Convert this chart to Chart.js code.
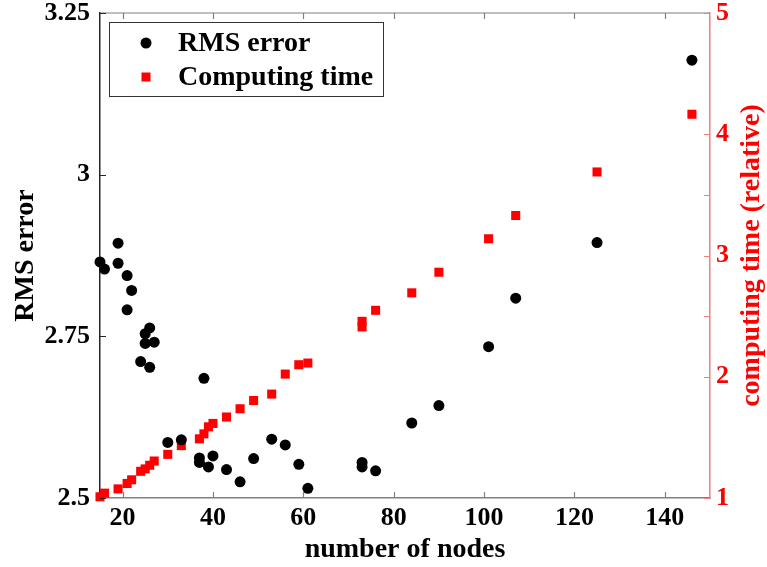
<!DOCTYPE html>
<html>
<head>
<meta charset="utf-8">
<title>RMS error and computing time vs number of nodes</title>
<script src="https://cdn.jsdelivr.net/npm/chart.js@4.4.1/dist/chart.umd.min.js"></script>
<style>
    html, body { margin: 0; padding: 0; background: #fff; }
    #chart { display: block; }
</style>
</head>
<body>
<canvas id="chart" width="767" height="567"></canvas>
<script>
// RMS error (left axis), black circles
var rmsNodes = [15, 16, 19, 19, 21, 21, 22, 24, 25, 25, 26, 26, 27, 30, 33, 37, 37, 38, 39, 40,
    43, 46, 49, 53, 56, 59, 61, 73, 73, 76, 84, 90, 101, 107, 125, 146];
var rmsError = [2.865, 2.854, 2.894, 2.863, 2.844, 2.791, 2.821, 2.711, 2.754, 2.739, 2.763, 2.702,
    2.741, 2.586, 2.590, 2.562, 2.555, 2.685, 2.548, 2.565, 2.544, 2.525, 2.561, 2.591, 2.582,
    2.552, 2.515, 2.555, 2.548, 2.542, 2.616, 2.643, 2.734, 2.809, 2.895, 3.177];

// computing time (right axis, relative), red squares
var timeNodes = [15, 16, 19, 21, 22, 24, 25, 26, 27, 30, 33, 37, 38, 39, 40, 43, 46, 49, 53, 56,
    59, 61, 73, 73, 76, 84, 90, 101, 107, 125, 146];
var timeRel = [1.01, 1.04, 1.075, 1.12, 1.15, 1.22, 1.24, 1.27, 1.305, 1.36, 1.432, 1.488, 1.529,
    1.587, 1.615, 1.668, 1.736, 1.804, 1.857, 2.022, 2.099, 2.113, 2.411, 2.457, 2.548, 2.692,
    2.862, 3.138, 3.33, 3.689, 4.165];

// tick labels
var xTicks = [20, 40, 60, 80, 100, 120, 140];
var rmsTicks = [2.5, 2.75, 3, 3.25];
var timeTicks = [1, 2, 3, 4, 5];
var timeMinorTicks = [2.5, 3.5];

var serif = "'Liberation Serif', 'Times New Roman', serif";
var tickFont = { family: serif, size: 26, weight: 'bold' };
var titleFont = { family: serif, size: 28, weight: 'bold' };
var red = '#ff0000';
var axisPink = '#f08080';
var axisGray = '#808080';
var axisDark = '#262626';

function pairs(xs, ys) {
    return xs.map(function(x, i) { return { x: x, y: ys[i] }; });
}

function setTicks(values) {
    return function(scale) {
        scale.ticks = values.map(function(v) { return { value: v }; });
    };
}

function plainLabel(value) {
    return String(value);
}

// fixed axis sizes, no extra room for half labels at the ends
function fixSize(w, h) {
    return function(scale) {
        if (w !== null) scale.width = w;
        if (h !== null) scale.height = h;
        scale.paddingTop = 0;
        scale.paddingBottom = 0;
        scale.paddingLeft = 0;
        scale.paddingRight = 0;
    };
}

// inward tick marks, top border line and the right-hand title
var boxPlugin = {
    id: 'boxPlugin',
    afterDraw: function(chart) {
        var ctx = chart.ctx;
        var a = chart.chartArea;
        var s = chart.scales;
        var len = 6;
        ctx.save();
        ctx.lineWidth = 1.2;

        ctx.strokeStyle = axisGray;
        ctx.beginPath();
        ctx.moveTo(a.left, a.top);
        ctx.lineTo(a.right, a.top);
        xTicks.forEach(function(v) {
            var px = Math.round(s.x.getPixelForValue(v)) + 0.5;
            ctx.moveTo(px, a.bottom);
            ctx.lineTo(px, a.bottom - len);
            ctx.moveTo(px, a.top);
            ctx.lineTo(px, a.top + len);
        });
        ctx.stroke();

        ctx.strokeStyle = axisDark;
        ctx.beginPath();
        rmsTicks.forEach(function(v) {
            var py = Math.round(s.y.getPixelForValue(v)) + 0.5;
            ctx.moveTo(a.left, py);
            ctx.lineTo(a.left + len, py);
        });
        ctx.stroke();

        ctx.strokeStyle = axisPink;
        ctx.beginPath();
        timeTicks.concat(timeMinorTicks).forEach(function(v) {
            var py = Math.round(s.y1.getPixelForValue(v)) + 0.5;
            ctx.moveTo(a.right, py);
            ctx.lineTo(a.right - len, py);
        });
        ctx.stroke();

        // right axis title, reading bottom to top like the left one
        ctx.fillStyle = red;
        ctx.font = 'bold 28px ' + serif;
        ctx.textAlign = 'center';
        ctx.textBaseline = 'middle';
        ctx.translate(752, (a.top + a.bottom) / 2);
        ctx.rotate(-Math.PI / 2);
        ctx.fillText('computing time (relative)', 0, 0);
        ctx.restore();
    }
};

// boxed legend in the upper left corner of the plot
var legendPlugin = {
    id: 'boxLegend',
    afterDraw: function(chart) {
        var ctx = chart.ctx;
        var a = chart.chartArea;
        var x0 = a.left + 9, y0 = a.top + 9;
        ctx.save();
        ctx.fillStyle = '#fff';
        ctx.fillRect(x0, y0, 274, 74);
        ctx.strokeStyle = '#333';
        ctx.lineWidth = 1;
        ctx.strokeRect(x0 + 0.5, y0 + 0.5, 274, 74);

        ctx.font = 'bold 28px ' + serif;
        ctx.textAlign = 'left';
        ctx.textBaseline = 'middle';
        chart.data.datasets.forEach(function(ds, i) {
            var my = y0 + 21 + i * 34;
            var mx = x0 + 37;
            ctx.fillStyle = ds.backgroundColor;
            if (ds.pointStyle === 'rect') {
                ctx.fillRect(mx - 4.5, my - 4.5, 9, 9);
            } else {
                ctx.beginPath();
                ctx.arc(mx, my, ds.pointRadius, 0, Math.PI * 2);
                ctx.fill();
            }
            ctx.fillStyle = '#000';
            ctx.fillText(ds.label, x0 + 69, my + 1);
        });
        ctx.restore();
    }
};

document.addEventListener("DOMContentLoaded", function() {
    var ctx = document.getElementById('chart').getContext('2d');
    var myChart = new Chart(ctx, {
        type: 'scatter',
        data: {
            datasets: [{
                label: 'RMS error',
                data: pairs(rmsNodes, rmsError),
                yAxisID: 'y',
                pointStyle: 'circle',
                pointRadius: 5.5,
                backgroundColor: '#000000',
                borderWidth: 0,
                clip: false
            }, {
                label: 'Computing time',
                data: pairs(timeNodes, timeRel),
                yAxisID: 'y1',
                pointStyle: 'rect',
                pointRadius: 6.4,
                backgroundColor: red,
                borderWidth: 0,
                clip: false
            }]
        },
        options: {
            responsive: false,
            animation: false,
            events: [],
            layout: { padding: { top: 13, left: 0, right: 0, bottom: 0 } },
            plugins: {
                legend: { display: false },
                tooltip: { enabled: false }
            },
            scales: {
                x: {
                    type: 'linear',
                    position: 'bottom',
                    min: 15,
                    max: 150,
                    afterBuildTicks: setTicks(xTicks),
                    afterFit: fixSize(null, 69),
                    grid: { display: false, drawTicks: false },
                    border: { display: true, color: axisGray, width: 1.5 },
                    ticks: { font: tickFont, color: '#000', padding: 5, maxRotation: 0, callback: plainLabel },
                    title: {
                        display: true,
                        text: 'number of nodes',
                        font: titleFont,
                        color: '#000',
                        padding: { top: 0, bottom: 0 }
                    }
                },
                y: {
                    type: 'linear',
                    position: 'left',
                    min: 2.5,
                    max: 3.25,
                    afterBuildTicks: setTicks(rmsTicks),
                    afterFit: fixSize(100, null),
                    grid: { display: false, drawTicks: false },
                    border: { display: true, color: axisDark, width: 1.5 },
                    ticks: { font: tickFont, color: '#000', padding: 10, callback: plainLabel },
                    title: {
                        display: true,
                        text: 'RMS error',
                        font: titleFont,
                        color: '#000',
                        padding: { top: 9, bottom: 0 }
                    }
                },
                y1: {
                    type: 'linear',
                    position: 'right',
                    min: 1,
                    max: 5,
                    afterBuildTicks: setTicks(timeTicks),
                    afterFit: fixSize(57, null),
                    grid: { display: false, drawTicks: false },
                    border: { display: true, color: axisPink, width: 1.5 },
                    ticks: { font: tickFont, color: red, padding: 6, callback: plainLabel }
                }
            }
        },
        plugins: [boxPlugin, legendPlugin]
    });
});
</script>
</body>
</html>
